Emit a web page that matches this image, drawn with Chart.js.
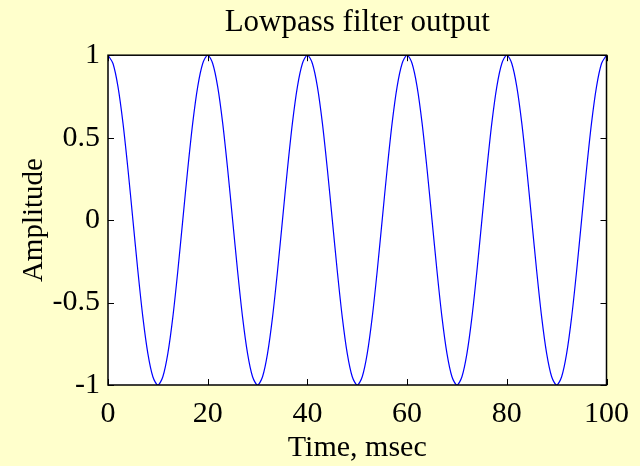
<!DOCTYPE html>
<html>
<head>
<meta charset="utf-8">
<script src="https://cdn.jsdelivr.net/npm/chart.js@4"></script>
<style>
  html, body { margin: 0; padding: 0; background: #FFFFCC; }
  #wrap { width: 640px; height: 466px; }
</style>
</head>
<body>
<div id="wrap"><canvas id="lowpassChart" width="640" height="466"></canvas></div>
<script>
// Time samples (msec)
const timeMs = [
  0, 1, 2, 3, 4, 5, 6, 7, 8, 9,
  10, 11, 12, 13, 14, 15, 16, 17, 18, 19,
  20, 21, 22, 23, 24, 25, 26, 27, 28, 29,
  30, 31, 32, 33, 34, 35, 36, 37, 38, 39,
  40, 41, 42, 43, 44, 45, 46, 47, 48, 49,
  50, 51, 52, 53, 54, 55, 56, 57, 58, 59,
  60, 61, 62, 63, 64, 65, 66, 67, 68, 69,
  70, 71, 72, 73, 74, 75, 76, 77, 78, 79,
  80, 81, 82, 83, 84, 85, 86, 87, 88, 89,
  90, 91, 92, 93, 94, 95, 96, 97, 98, 99,
  100
];

// Filter output amplitude
const amplitude = [
  1, 0.95, 0.81, 0.59, 0.31, 0, -0.31, -0.59, -0.81, -0.95,
  -1, -0.95, -0.81, -0.59, -0.31, 0, 0.31, 0.59, 0.81, 0.95,
  1, 0.95, 0.81, 0.59, 0.31, 0, -0.31, -0.59, -0.81, -0.95,
  -1, -0.95, -0.81, -0.59, -0.31, 0, 0.31, 0.59, 0.81, 0.95,
  1, 0.95, 0.81, 0.59, 0.31, 0, -0.31, -0.59, -0.81, -0.95,
  -1, -0.95, -0.81, -0.59, -0.31, 0, 0.31, 0.59, 0.81, 0.95,
  1, 0.95, 0.81, 0.59, 0.31, 0, -0.31, -0.59, -0.81, -0.95,
  -1, -0.95, -0.81, -0.59, -0.31, 0, 0.31, 0.59, 0.81, 0.95,
  1, 0.95, 0.81, 0.59, 0.31, 0, -0.31, -0.59, -0.81, -0.95,
  -1, -0.95, -0.81, -0.59, -0.31, 0, 0.31, 0.59, 0.81, 0.95,
  1
];

const xTicks = [0, 20, 40, 60, 80, 100];
const yTicks = [-1, -0.5, 0, 0.5, 1];

const serif = '"Liberation Serif", "Times New Roman", serif';

// white plot area, black box and inward tick marks (matlab style)
const boxPlugin = {
  id: 'box',
  beforeDraw(chart) {
    const a = chart.chartArea;
    const ctx = chart.ctx;
    ctx.save();
    ctx.fillStyle = '#FFFFCC';
    ctx.fillRect(0, 0, chart.width, chart.height);
    ctx.fillStyle = '#ffffff';
    ctx.fillRect(a.left, a.top, a.right - a.left, a.bottom - a.top);
    ctx.restore();
  },
  afterDraw(chart) {
    const a = chart.chartArea;
    const ctx = chart.ctx;
    const len = 6;
    ctx.save();
    ctx.strokeStyle = '#000000';
    ctx.lineWidth = 1;
    ctx.beginPath();
    xTicks.forEach(v => {
      const px = Math.round(chart.scales.x.getPixelForValue(v)) + 0.5;
      ctx.moveTo(px, a.bottom); ctx.lineTo(px, a.bottom - len);
      ctx.moveTo(px, a.top); ctx.lineTo(px, a.top + len);
    });
    yTicks.forEach(v => {
      const py = Math.round(chart.scales.y.getPixelForValue(v)) + 0.5;
      ctx.moveTo(a.left, py); ctx.lineTo(a.left + len, py);
      ctx.moveTo(a.right, py); ctx.lineTo(a.right - len, py);
    });
    ctx.stroke();
    ctx.lineWidth = 1.5;
    ctx.strokeRect(a.left, a.top, a.right - a.left, a.bottom - a.top);
    ctx.restore();
  }
};

const chartData = {
  datasets: [{
    label: 'Lowpass filter output',
    data: timeMs.map((t, i) => ({ x: t, y: amplitude[i] })),
    borderColor: '#0000ff',
    borderWidth: 1.2,
    pointRadius: 0,
    tension: 0.3,
    fill: false
  }]
};

const chartConfig = {
  type: 'line',
  data: chartData,
  plugins: [boxPlugin],
  options: {
    responsive: false,
    animation: false,
    layout: { padding: { left: 0, right: 30, top: 0, bottom: 0 } },
    plugins: {
      legend: { display: false },
      tooltip: { enabled: false },
      title: {
        display: true,
        text: 'Lowpass filter output',
        fullSize: false,
        color: '#000000',
        font: { family: serif, size: 31, weight: 'normal' },
        padding: { top: 4, bottom: 14 }
      }
    },
    scales: {
      x: {
        type: 'linear',
        min: 0,
        max: 100,
        afterBuildTicks: s => { s.ticks = xTicks.map(v => ({ value: v })); },
        afterFit: s => { s.height = 81; },
        grid: { display: false, drawTicks: false },
        border: { display: false },
        ticks: {
          color: '#000000',
          padding: 11,
          font: { family: serif, size: 30 }
        },
        title: {
          display: true,
          text: 'Time, msec',
          color: '#000000',
          padding: { top: 0, bottom: 0 },
          font: { family: serif, size: 30 }
        }
      },
      y: {
        min: -1,
        max: 1,
        afterBuildTicks: s => { s.ticks = yTicks.map(v => ({ value: v })); },
        afterFit: s => { s.width = 108; },
        grid: { display: false, drawTicks: false },
        border: { display: false },
        ticks: {
          color: '#000000',
          padding: 8,
          font: { family: serif, size: 30 },
          callback: v => String(v)
        },
        title: {
          display: true,
          text: 'Amplitude',
          color: '#000000',
          padding: { top: 17, bottom: 0 },
          font: { family: serif, size: 29 }
        }
      }
    }
  }
};

new Chart(document.getElementById('lowpassChart'), chartConfig);
</script>
</body>
</html>
